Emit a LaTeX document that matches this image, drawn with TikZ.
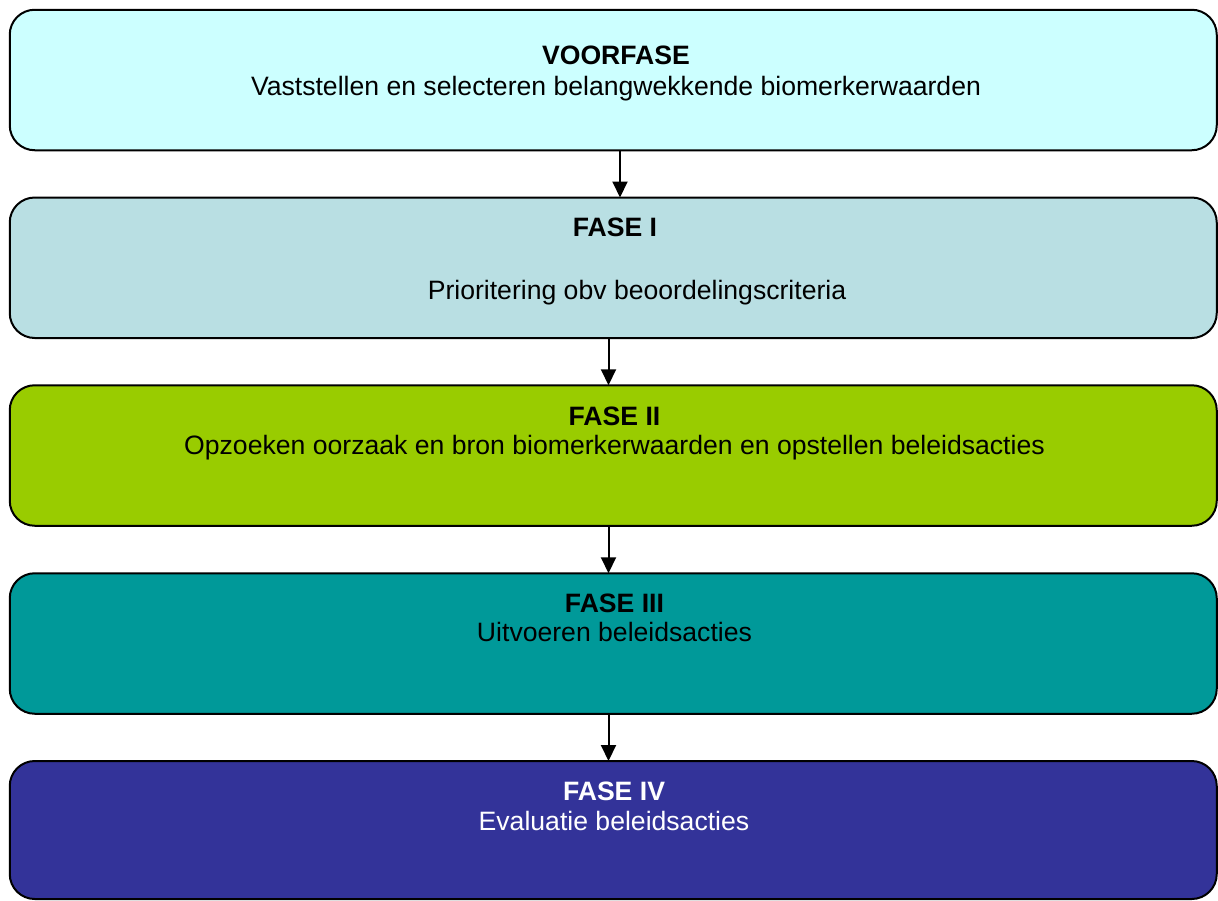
\documentclass[tikz,border=0pt]{standalone}
\usepackage{fontspec}
\setmainfont{Liberation Sans}
\usetikzlibrary{arrows.meta}
\definecolor{cA}{HTML}{CCFFFF}
\definecolor{cB}{HTML}{B9DFE3}
\definecolor{cC}{HTML}{99CC00}
\definecolor{cD}{HTML}{009999}
\definecolor{cE}{HTML}{333399}
\tikzset{
  phasebox/.style={draw=black, line width=2pt, rounded corners=25pt, inner sep=0pt, outer sep=0pt, minimum width=1207pt, minimum height=140.5pt},
  ttl/.style={anchor=base, inner sep=0pt, font=\fontsize{26.6}{31}\selectfont\bfseries},
  sub/.style={anchor=base, inner sep=0pt, font=\fontsize{26.6}{31}\selectfont},
  arr/.style={line width=2pt, -{Triangle[width=15pt,length=16pt]}}
}
\begin{document}
\begin{tikzpicture}[x=1pt,y=-1pt]
\useasboundingbox (0,0) rectangle (1218,900);
\node[phasebox, fill=cA] (b1) at (613.25,80) {};
\node[phasebox, fill=cB] (b2) at (613.25,267.75) {};
\node[phasebox, fill=cC] (b3) at (613.25,455.5) {};
\node[phasebox, fill=cD] (b4) at (613.25,643.5) {};
\node[phasebox, fill=cE, minimum height=138pt] (b5) at (613.25,830) {};

\node[ttl] (t1) at (616,64) {VOORFASE};
\node[sub] (s1) at (616,95) {Vaststellen en selecteren belangwekkende biomerkerwaarden};
\node[ttl] (t2) at (615,236.7) {FASE I};
\node[sub] (s2) at (637,299.3) {Prioritering obv beoordelingscriteria};
\node[ttl] (t3) at (614.5,425.7) {FASE II};
\node[sub] (s3) at (614.5,454.3) {Opzoeken oorzaak en bron biomerkerwaarden en opstellen beleidsacties};
\node[ttl] (t4) at (614.5,612.5) {FASE III};
\node[sub] (s4) at (614.5,641.5) {Uitvoeren beleidsacties};
\node[ttl, text=white] (t5) at (614,800.7) {FASE IV};
\node[sub, text=white] (s5) at (614,830) {Evaluatie beleidsacties};

\coordinate (xa) at (620,0);
\coordinate (xb) at (608.5,0);
\draw[arr] (b1.south -| xa) -- (b2.north -| xa);
\draw[arr] (b2.south -| xb) -- (b3.north -| xb);
\draw[arr] (b3.south -| xb) -- (b4.north -| xb);
\draw[arr] (b4.south -| xb) -- (b5.north -| xb);
\end{tikzpicture}
\end{document}
